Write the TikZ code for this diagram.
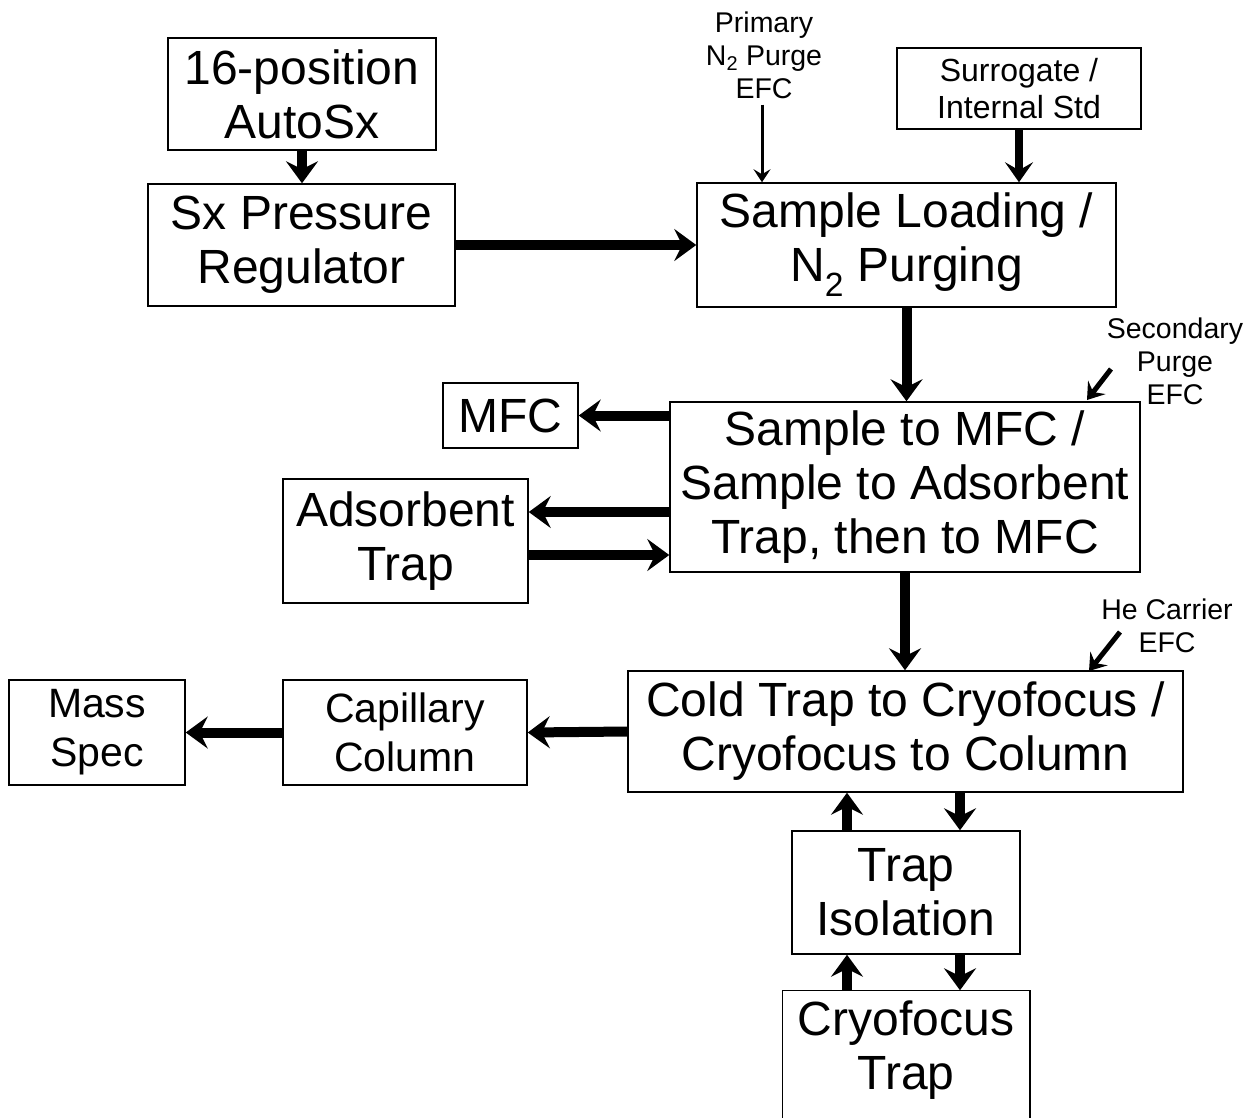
\documentclass[tikz,border=0pt]{standalone}
\usepackage{fontspec}
\setmainfont{Liberation Sans}
\usetikzlibrary{arrows.meta}
\begin{document}
\begin{tikzpicture}[x=1pt,y=-1pt,
  box/.style={draw, line width=1.5pt, inner sep=0pt, align=center},
  big/.style={font=\fontsize{48}{54}\selectfont},
  mid/.style={font=\fontsize{41}{49}\selectfont},
  srg/.style={font=\fontsize{32}{37}\selectfont},
  lbl/.style={font=\fontsize{28.5}{33}\selectfont, align=center, inner sep=0pt},
  flow/.style={line width=10pt, -{Stealth[length=22pt,width=32pt,inset=8pt]}},
  flowm/.style={line width=8pt, -{Stealth[length=20pt,width=28pt,inset=8pt]}},
  diag/.style={line width=5pt, -{Stealth[length=16pt,width=22pt,inset=6pt]}},
  thinarr/.style={line width=3pt, -{Stealth[length=13pt,width=17pt,inset=5pt]}}
]
\useasboundingbox (0,0) rectangle (1258,1117);
\clip (0,0) rectangle (1258,1117);
\fill[white] (0,0) rectangle (1258,1117);

% boxes
\node[box,big,minimum width=268,minimum height=112] (auto) at (302,94) {16-position\\AutoSx};
\node[box,big,minimum width=307,minimum height=122] (reg) at (301.5,245) {Sx Pressure\\Regulator};
\node[box,big,minimum width=419,minimum height=124] (load) at (906.5,245) {Sample Loading /\\N\textsubscript{2} Purging};
\node[box,srg,minimum width=244,minimum height=81] (surr) at (1019,88.5) {Surrogate /\\Internal Std};
\node[box,big,minimum width=470,minimum height=170] (step) at (905,487) {Sample to MFC /\\Sample to Adsorbent\\Trap, then to MFC};
\node[box,big,minimum width=135,minimum height=65] (mfc) at (510.5,415.5) {MFC};
\node[box,big,minimum width=245,minimum height=124] (ads) at (405.5,541) {Adsorbent\\Trap};
\node[box,big,minimum width=555,minimum height=121] (cold) at (905.5,731.5) {Cold Trap to Cryofocus /\\Cryofocus to Column};
\node[box,mid,minimum width=244,minimum height=105] (cap) at (405,732.5) {Capillary\\Column};
\node[box,mid,minimum width=176,minimum height=105] (mass) at (97,732.5) {Mass\\Spec};
\node[box,big,minimum width=228,minimum height=123] (iso) at (906,892.5) {Trap\\Isolation};
\node[box,big,draw=none,minimum width=246,minimum height=118] (cryo) at (906,1050) {Cryofocus\\Trap};
\draw[line width=1.5pt] ([yshift=-40pt]cryo.south west) -- (cryo.north west) -- (cryo.north east) -- ([yshift=-40pt]cryo.south east);

% labels
\node[lbl] (prim) at (764,55) {Primary\\N\textsubscript{2} Purge\\EFC};
\node[lbl] (sec) at (1175,361) {Secondary\\Purge\\EFC};
\node[lbl] (he) at (1167,626) {He Carrier\\EFC};
\coordinate (secfrom) at (1111,369);
\coordinate (secto) at (1087,400);
\coordinate (hefrom) at (1120,632);
\coordinate (heto) at (1089,671);

% connectors
\draw[flow] (auto.south) -- (auto.south |- reg.north);
\draw[flow] (reg.east) -- (load.west);
\draw[flowm] (surr.south) -- (surr.south |- load.north);
\draw[thinarr] ([xshift=-2pt,yshift=-6pt]prim.south) -- ([xshift=-2pt]prim.south |- load.north);
\draw[diag] (secfrom) -- (secto);
\draw[diag] (hefrom) -- (heto);
\draw[flow] (load.south) -- (load.south |- step.north);
\draw[flow] (step.west |- mfc.east) -- (mfc.east);
\draw[flow] ([yshift=29pt]step.west |- ads.east) -- ([yshift=29pt]ads.east);
\draw[flow] ([yshift=-14pt]ads.east) -- ([yshift=-14pt]step.west |- ads.east);
\draw[flow] (step.south) -- (step.south |- cold.north);
\draw[flow] (cold.west) -- (cap.east);
\draw[flow] (cap.west) -- (mass.east);
\draw[flow] ([xshift=-59pt]iso.north) -- ([xshift=-59pt]iso.north |- cold.south);
\draw[flow] ([xshift=54pt]iso.north |- cold.south) -- ([xshift=54pt]iso.north);
\draw[flow] ([xshift=-59pt]cryo.north) -- ([xshift=-59pt]cryo.north |- iso.south);
\draw[flow] ([xshift=54pt]cryo.north |- iso.south) -- ([xshift=54pt]cryo.north);
\end{tikzpicture}
\end{document}
